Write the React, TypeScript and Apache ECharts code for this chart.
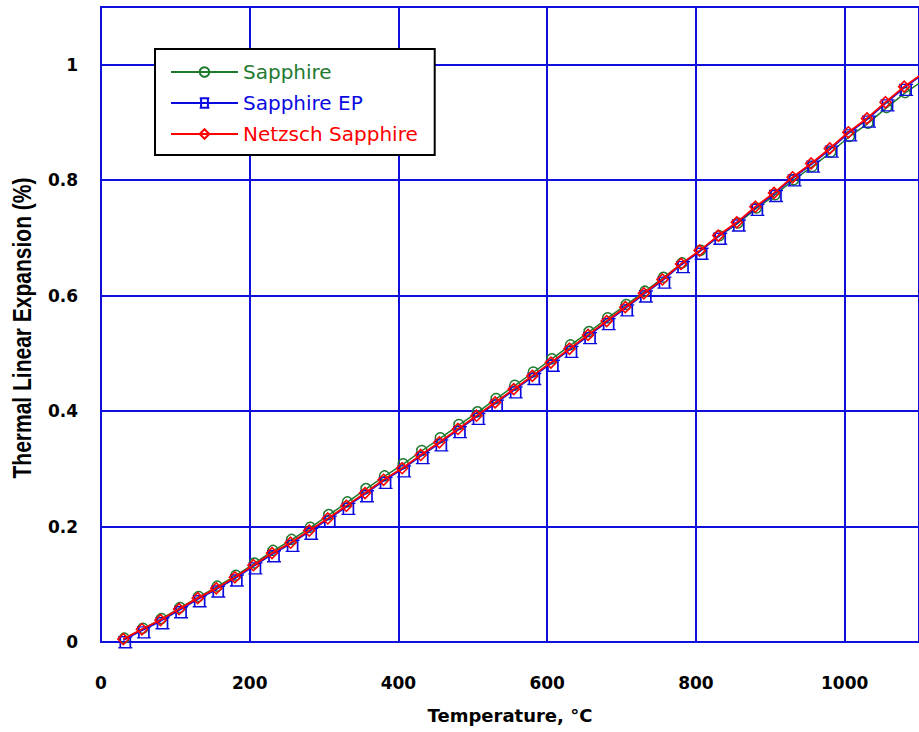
import React, { useEffect, useRef } from "react";
import * as echarts from "echarts";

// Temperatures (°C) at which each run was sampled
const temperatures = [
  30, 55, 80, 105, 130, 155, 180, 205, 230, 255, 280, 305, 330, 355, 380,
  405, 430, 455, 480, 505, 530, 555, 580, 605, 630, 655, 680, 705, 730, 755,
  780, 805, 830, 855, 880, 905, 930, 955, 980, 1005, 1030, 1055, 1080, 1105,
];

// Thermal linear expansion (%) per run
const sapphire = [
  0.005, 0.022, 0.039, 0.058, 0.077, 0.095, 0.114, 0.135, 0.157, 0.176,
  0.197, 0.219, 0.241, 0.264, 0.286, 0.307, 0.33, 0.352, 0.375, 0.397,
  0.42, 0.443, 0.466, 0.489, 0.513, 0.536, 0.56, 0.583, 0.606, 0.63,
  0.655, 0.677, 0.702, 0.724, 0.75, 0.773, 0.799, 0.822, 0.847, 0.874,
  0.897, 0.924, 0.95, 0.972,
];

const sapphireEP = [
  0.003, 0.02, 0.036, 0.055, 0.074, 0.091, 0.11, 0.131, 0.152, 0.17,
  0.191, 0.212, 0.234, 0.256, 0.279, 0.299, 0.322, 0.344, 0.367, 0.39,
  0.413, 0.436, 0.459, 0.482, 0.506, 0.53, 0.554, 0.578, 0.602, 0.626,
  0.653, 0.676, 0.702, 0.725, 0.752, 0.776, 0.803, 0.827, 0.853, 0.881,
  0.905, 0.933, 0.96, 0.983,
];

const netzschSapphire = [
  0.005, 0.022, 0.038, 0.057, 0.076, 0.093, 0.112, 0.133, 0.154, 0.172,
  0.193, 0.214, 0.236, 0.258, 0.281, 0.301, 0.324, 0.346, 0.369, 0.392,
  0.415, 0.438, 0.461, 0.484, 0.508, 0.532, 0.556, 0.58, 0.604, 0.628,
  0.655, 0.678, 0.704, 0.727, 0.754, 0.778, 0.805, 0.829, 0.855, 0.883,
  0.907, 0.935, 0.962, 0.985,
];

const seriesNames = ["Sapphire", "Sapphire EP", "Netzsch Sapphire"];

const GRID_BLUE = "#1010dc";
const GREEN = "#1f7a30";
const BLUE = "#0a0ae0";
const RED = "#ff0000";

const pair = (vals: number[]) => temperatures.map((t, i) => [t, vals[i]]);

export default function App() {
  const ref = useRef<HTMLDivElement>(null);

  useEffect(() => {
    if (!ref.current) return;
    const chart = echarts.init(ref.current, null, { renderer: "svg" });

    const labelFont = {
      fontFamily: "DejaVu Sans",
      fontWeight: "bold" as const,
      fontSize: 17,
      color: "#000",
    };

    chart.setOption({
      animation: false,
      backgroundColor: "#fff",
      grid: {
        left: 101,
        top: 7,
        width: 819,
        height: 635,
        show: true,
        borderColor: GRID_BLUE,
        borderWidth: 2,
        backgroundColor: "transparent",
      },
      xAxis: {
        type: "value",
        min: 0,
        max: 1100,
        interval: 200,
        name: "Temperature, °C",
        nameLocation: "middle",
        nameGap: 64,
        nameTextStyle: {
          fontFamily: "DejaVu Sans",
          fontWeight: "bold",
          fontSize: 18,
          color: "#000",
        },
        axisLine: { show: true, lineStyle: { color: GRID_BLUE, width: 2 } },
        axisTick: { show: false },
        splitLine: { show: true, lineStyle: { color: GRID_BLUE, width: 2 } },
        axisLabel: {
          ...labelFont,
          margin: 32,
          showMaxLabel: false,
          formatter: (v: number) => String(v),
        },
      },
      yAxis: {
        type: "value",
        min: 0,
        max: 1.1,
        interval: 0.2,
        axisLine: { show: true, lineStyle: { color: GRID_BLUE, width: 2 } },
        axisTick: { show: false },
        splitLine: { show: true, lineStyle: { color: GRID_BLUE, width: 2 } },
        axisLabel: { ...labelFont, margin: 23, showMaxLabel: false },
      },
      legend: {
        left: 155,
        top: 49,
        orient: "vertical",
        backgroundColor: "#fff",
        borderColor: "#000",
        borderWidth: 2,
        padding: [13, 17, 11, 15],
        itemWidth: 67,
        itemHeight: 12,
        itemGap: 11,
        textStyle: { fontFamily: "DejaVu Sans", fontSize: 20, lineHeight: 20 },
        data: [
          { name: seriesNames[0], textStyle: { color: GREEN } },
          { name: seriesNames[1], textStyle: { color: BLUE } },
          { name: seriesNames[2], textStyle: { color: RED } },
        ],
      },
      graphic: [
        {
          type: "text",
          x: 22,
          y: 328,
          rotation: Math.PI / 2,
          scaleY: 1.25,
          style: {
            text: "Thermal Linear Expansion (%)",
            fontFamily: "Liberation Sans",
            fontWeight: "bold",
            fontSize: 21,
            fill: "#000",
            align: "center",
            verticalAlign: "middle",
          },
        },
      ],
      series: [
        {
          name: seriesNames[0],
          type: "line",
          data: pair(sapphire),
          symbol: "circle",
          symbolSize: 10,
          symbolOffset: [1, -1],
          showAllSymbol: true,
          lineStyle: { color: GREEN, width: 1.5 },
          itemStyle: { color: "transparent", borderColor: GREEN, borderWidth: 1.5 },
          z: 2,
        },
        {
          name: seriesNames[1],
          type: "line",
          data: pair(sapphireEP),
          symbol: "path://M0,0H14M0,10H14M2,0V10M12,0V10",
          symbolSize: [14, 11],
          symbolOffset: [2, 2],
          showAllSymbol: true,
          lineStyle: { color: BLUE, width: 1.5 },
          itemStyle: { color: "transparent", borderColor: BLUE, borderWidth: 1.5 },
          z: 3,
        },
        {
          name: seriesNames[2],
          type: "line",
          data: pair(netzschSapphire),
          symbol: "diamond",
          symbolSize: 11,
          showAllSymbol: true,
          lineStyle: { color: RED, width: 1.8 },
          itemStyle: { color: "transparent", borderColor: RED, borderWidth: 1.6 },
          z: 4,
        },
      ],
    });

    return () => chart.dispose();
  }, []);

  return (
    <div
      ref={ref}
      style={{ position: "fixed", left: 0, top: 0, width: 919, height: 732 }}
    />
  );
}
